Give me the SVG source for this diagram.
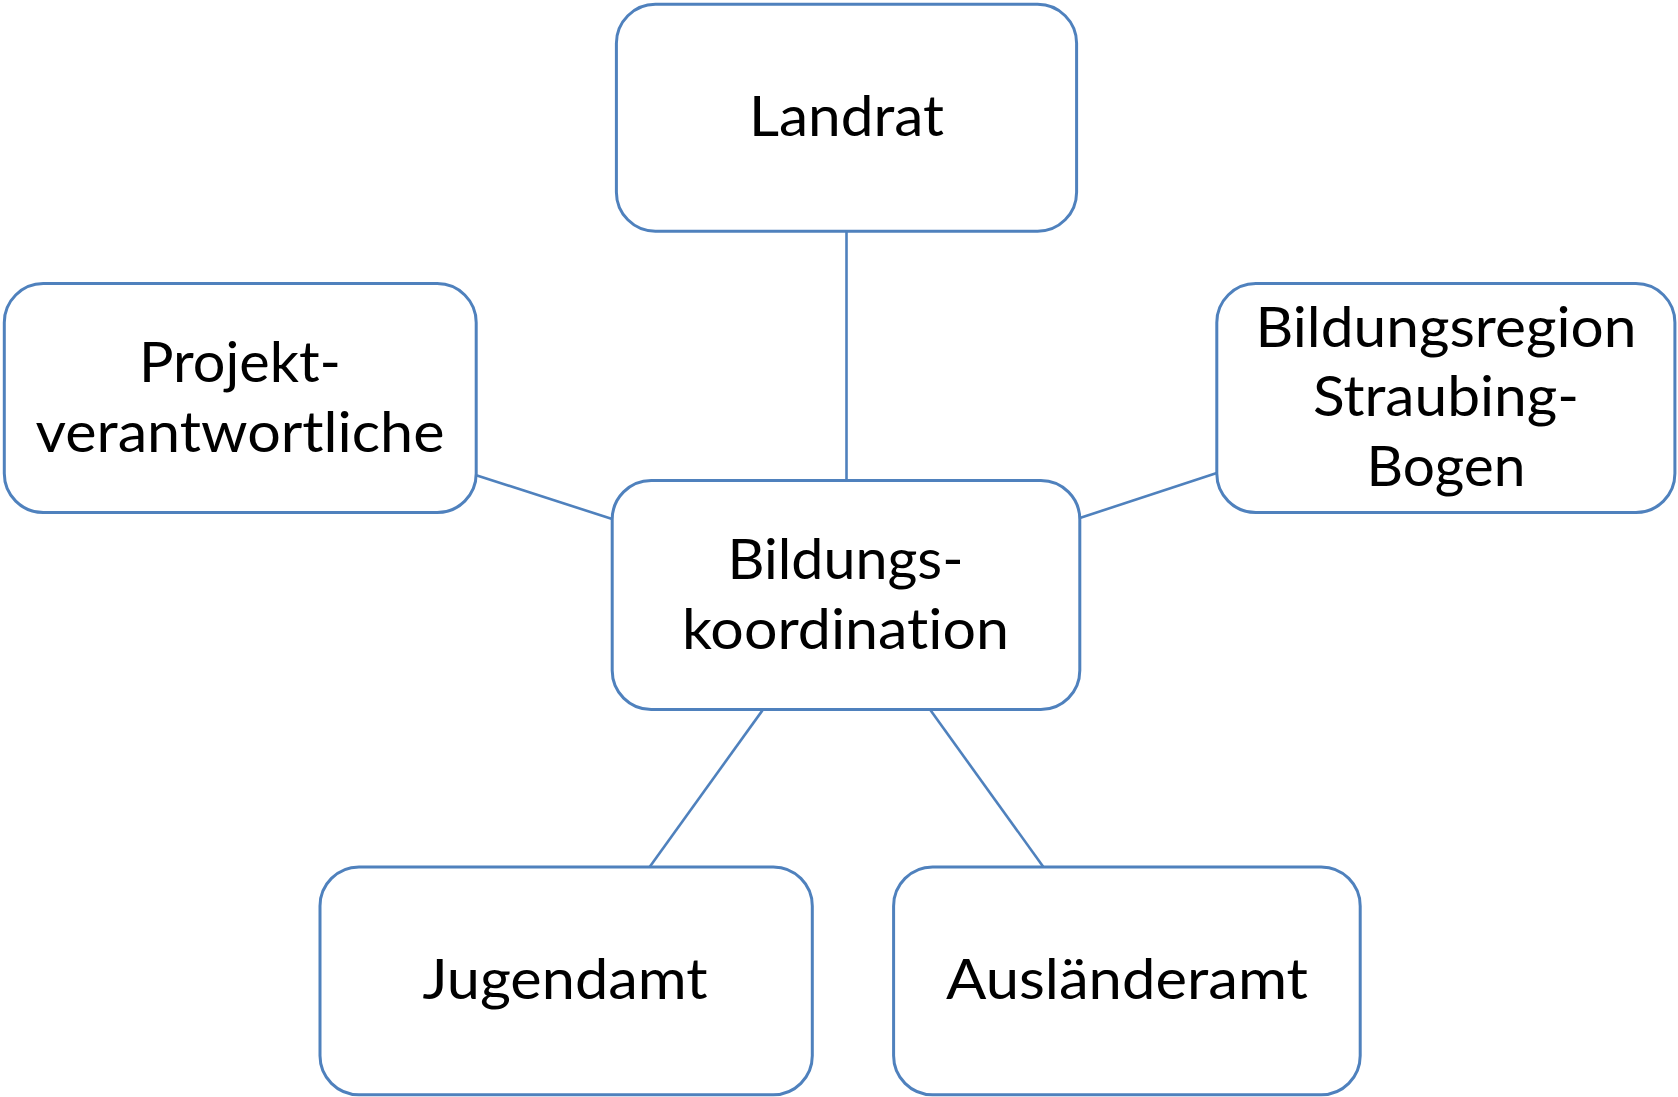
<svg xmlns="http://www.w3.org/2000/svg" width="1678" height="1097" viewBox="0 0 1678 1097">
<style>
.box{fill:#ffffff;stroke:#4F81BD;stroke-width:3}
.conn{stroke:#4F81BD;stroke-width:2.6;fill:none}
.lbl{font-family:Lato,"Open Sans","Liberation Sans",sans-serif;font-size:57px;fill:#000000;text-anchor:middle;font-variant-ligatures:none;font-feature-settings:"liga" 0,"dlig" 0}
</style>
<rect x="0" y="0" width="1678" height="1097" fill="#ffffff"/>
<g id="connectors">
<line class="conn" x1="846.5" y1="231" x2="846.5" y2="480.5"/>
<line class="conn" x1="476.2" y1="475.2" x2="612.2" y2="519"/>
<line class="conn" x1="1216.8" y1="473" x2="1079.8" y2="518"/>
<line class="conn" x1="763" y1="709.6" x2="649.6" y2="866.9"/>
<line class="conn" x1="930" y1="709.6" x2="1043.4" y2="866.9"/>
</g>
<g id="node-landrat">
<rect class="box" x="616.4" y="4.3" width="460.2" height="226.9" rx="39" ry="39"/>
<text class="lbl" x="846.5" y="136" textLength="195" lengthAdjust="spacingAndGlyphs">Landrat</text>
</g>
<g id="node-projekt">
<rect class="box" x="4.3" y="283.6" width="471.9" height="229" rx="39" ry="39"/>
<text class="lbl" x="240" y="382" textLength="202" lengthAdjust="spacingAndGlyphs">Projekt-</text>
<text class="lbl" x="240" y="451.6" textLength="409" lengthAdjust="spacingAndGlyphs">verantwortliche</text>
</g>
<g id="node-bildungskoordination">
<rect class="box" x="612.2" y="480.5" width="467.6" height="229.1" rx="39" ry="39"/>
<text class="lbl" x="845.5" y="579" textLength="236" lengthAdjust="spacingAndGlyphs">Bildungs-</text>
<text class="lbl" x="845.5" y="648.5" textLength="327" lengthAdjust="spacingAndGlyphs">koordination</text>
</g>
<g id="node-bildungsregion">
<rect class="box" x="1216.8" y="283.6" width="458.1" height="229" rx="39" ry="39"/>
<text class="lbl" x="1446" y="346.7" textLength="381" lengthAdjust="spacingAndGlyphs">Bildungsregion</text>
<text class="lbl" x="1446" y="416.3" textLength="266" lengthAdjust="spacingAndGlyphs">Straubing-</text>
<text class="lbl" x="1446" y="485.9" textLength="159" lengthAdjust="spacingAndGlyphs">Bogen</text>
</g>
<g id="node-jugendamt">
<rect class="box" x="320" y="866.9" width="492.3" height="227.9" rx="39" ry="39"/>
<text class="lbl" x="565" y="998.5" textLength="285" lengthAdjust="spacingAndGlyphs">Jugendamt</text>
</g>
<g id="node-auslaenderamt">
<rect class="box" x="893.6" y="866.9" width="466.6" height="227.9" rx="39" ry="39"/>
<text class="lbl" x="1127" y="998.5" textLength="362" lengthAdjust="spacingAndGlyphs">Ausländeramt</text>
</g>
</svg>
